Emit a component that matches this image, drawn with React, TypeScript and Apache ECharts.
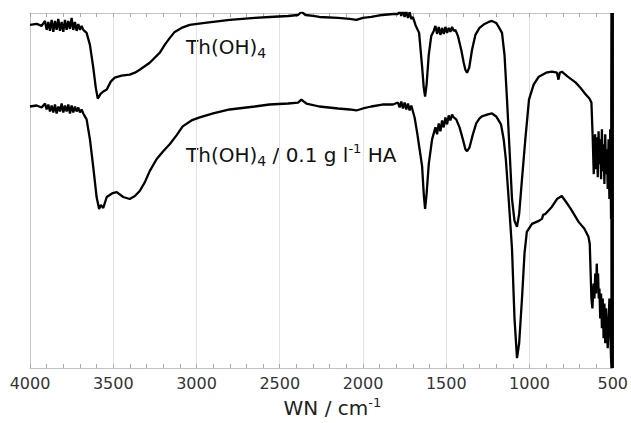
import React, { useEffect, useRef } from "react";
import * as echarts from "echarts";

// Wavenumbers (cm^-1) and transmittance (arbitrary units) for each spectrum
const wnThOH4 = [
  4000, 3960, 3930, 3910, 3900, 3890, 3880, 3870, 3860, 3850, 3840, 3830, 3820, 3810, 3800, 3790, 3780, 3770, 3760, 3750,
  3740, 3730, 3720, 3710, 3700, 3690, 3680, 3660, 3640, 3620, 3605, 3593, 3575, 3560, 3539, 3515, 3491, 3450, 3401, 3370,
  3341, 3281, 3221, 3191, 3160, 3131, 3090, 3041, 2950, 2800, 2650, 2560, 2450, 2390, 2370, 2360, 2345, 2300, 2262, 2150,
  2080, 2040, 2000, 1950, 1884, 1820, 1790, 1780, 1770, 1760, 1750, 1740, 1730, 1720, 1710, 1700, 1685, 1663, 1645, 1635,
  1627, 1618, 1605, 1590, 1575, 1565, 1555, 1545, 1535, 1525, 1515, 1505, 1495, 1485, 1475, 1465, 1455, 1445, 1430, 1410,
  1395, 1385, 1375, 1362, 1345, 1325, 1300, 1270, 1245, 1225, 1200, 1185, 1165, 1150, 1135, 1120, 1105, 1090, 1075, 1062,
  1045, 1025, 1003, 975, 944, 900, 866, 835, 826, 818, 806, 770, 722, 690, 662, 640, 628, 620, 614, 606,
  600, 595, 590, 585, 580, 575, 570, 565, 560, 555, 550, 545, 540, 535, 530, 525, 520, 515, 510, 507,
  505, 504, 503, 502, 501, 500,
];
const tThOH4 = [
  345, 346, 344, 349, 340, 348, 339, 350, 338, 349, 340, 351, 339, 348, 338, 350, 340, 349, 341, 352,
  340, 348, 339, 346, 340, 344, 340, 337, 325, 302, 282, 271, 276, 278, 280, 288, 292, 294, 295, 297,
  300, 307, 317, 325, 332, 338, 342, 345, 347, 350, 352, 353, 354, 355, 358, 357, 355, 354, 353, 352,
  351, 350, 352, 353, 355, 356, 356, 359, 354, 360, 353, 359, 352, 358, 351, 353, 345, 337, 303, 282,
  273, 285, 315, 334, 339, 344, 336, 343, 335, 342, 336, 343, 337, 342, 338, 343, 339, 340, 334, 320,
  307, 300, 297, 302, 320, 335, 342, 346, 348, 349, 347, 343, 337, 315, 270, 220, 170, 148, 142, 155,
  190, 230, 270, 285, 293, 297, 298, 297, 290, 297, 298, 293, 287, 281, 275, 271, 267, 230, 195, 235,
  200, 232, 192, 238, 205, 230, 190, 240, 198, 225, 185, 235, 195, 220, 180, 230, 170, 240, 150, 357,
  0, 357, 0, 357, 0, 357,
];

const wnThOH4HA = [
  4000, 3960, 3930, 3910, 3900, 3890, 3880, 3870, 3860, 3850, 3840, 3830, 3820, 3810, 3800, 3790, 3780, 3770, 3760, 3750,
  3740, 3730, 3720, 3710, 3700, 3690, 3680, 3660, 3640, 3620, 3600, 3585, 3575, 3560, 3539, 3503, 3479, 3440, 3401, 3370,
  3341, 3310, 3281, 3240, 3200, 3161, 3120, 3083, 3030, 2981, 2900, 2801, 2650, 2562, 2450, 2390, 2370, 2355, 2340, 2262,
  2150, 2080, 2040, 2000, 1950, 1884, 1820, 1790, 1780, 1770, 1760, 1750, 1740, 1730, 1720, 1710, 1700, 1690, 1675, 1660,
  1645, 1635, 1627, 1618, 1605, 1585, 1565, 1555, 1545, 1535, 1525, 1515, 1505, 1495, 1485, 1475, 1465, 1455, 1440, 1420,
  1400, 1385, 1375, 1360, 1340, 1320, 1300, 1286, 1250, 1225, 1200, 1171, 1155, 1142, 1125, 1105, 1090, 1075, 1062, 1045,
  1030, 1016, 985, 944, 925, 918, 905, 866, 835, 806, 780, 752, 705, 670, 646, 638, 628, 622, 615, 610,
  605, 600, 596, 592, 588, 584, 580, 575, 570, 565, 560, 555, 550, 545, 540, 530, 520, 510, 507, 505,
  504, 503, 502, 501, 500,
];
const tThOH4HA = [
  263, 264, 262, 266, 260, 265, 258, 264, 257, 265, 256, 263, 258, 266, 257, 264, 258, 265, 256, 264,
  257, 263, 258, 262, 257, 260, 256, 250, 230, 202, 172, 160, 164, 161, 172, 176, 177, 172, 170, 173,
  178, 187, 198, 210, 218, 225, 234, 243, 249, 252, 256, 260, 263, 265, 266, 267, 270, 268, 266, 263,
  261, 260, 259, 261, 263, 265, 265, 267, 262, 268, 261, 267, 260, 266, 259, 264, 258, 252, 237, 220,
  203, 175, 160, 175, 205, 230, 242, 235, 246, 238, 249, 242, 252, 245, 254, 249, 255, 252, 250, 242,
  230, 220, 218, 222, 235, 246, 251, 253, 255, 256, 253, 245, 230, 210, 170, 120, 50, 10, 25, 70,
  115, 137, 145, 148, 150, 154, 155, 162, 170, 173, 167, 160, 147, 140, 132, 125, 70, 60, 85, 70,
  95, 75, 105, 85, 95, 70, 80, 50, 75, 40, 70, 30, 65, 25, 60, 20, 70, 10, 0, 357,
  0, 357, 0, 357, 0,
];

const xTicks = [4000, 3500, 3000, 2500, 2000, 1500, 1000, 500];
const seriesNames = ["Th(OH)4", "Th(OH)4 / 0.1 g l-1 HA"];

const FONT = "DejaVu Sans";

export default function App() {
  const ref = useRef<HTMLDivElement>(null);
  useEffect(() => {
    if (!ref.current) return;
    const chart = echarts.init(ref.current, undefined, { renderer: "svg" });
    const xMin = xTicks[xTicks.length - 1];
    const xMax = xTicks[0];
    const axisCommon = {
      type: "value" as const,
      min: xMin,
      max: xMax,
      interval: 500,
      inverse: true,
      axisLine: { show: true, lineStyle: { color: "#c4c4c4", width: 1 } },
      axisTick: { show: true, inside: true, length: 4, lineStyle: { color: "#a8a8a8" } },
      minorTick: { show: true, splitNumber: 5, length: 4, lineStyle: { color: "#a8a8a8" } },
    };
    chart.setOption({
      animation: false,
      backgroundColor: "#ffffff",
      grid: { left: 30, right: 18, top: 13, bottom: 53 },
      xAxis: [
        {
          ...axisCommon,
          position: "bottom",
          axisLabel: {
            show: true,
            color: "#333",
            fontSize: 16,
            fontFamily: FONT,
            margin: 7,
            formatter: (v: number) => String(v),
          },
          splitLine: { show: true, lineStyle: { color: "#e2e2e2", width: 1 } },
          name: "{m|WN / cm}{sup|-1}",
          nameLocation: "middle",
          nameGap: 26,
          nameTextStyle: {
            padding: [0, 0, 0, 22],
            rich: {
              m: { fontSize: 20, color: "#222", fontFamily: FONT, lineHeight: 24 },
              sup: { fontSize: 13, color: "#222", fontFamily: FONT, lineHeight: 14, verticalAlign: "top" },
            },
          },
        },
        {
          ...axisCommon,
          position: "top",
          axisLabel: { show: false },
          splitLine: { show: false },
        },
      ],
      yAxis: {
        type: "value",
        min: 0,
        max: 357,
        axisLine: { show: true, lineStyle: { color: "#c4c4c4", width: 1 } },
        axisTick: { show: false },
        axisLabel: { show: false },
        splitLine: { show: false },
      },
      series: [
        {
          name: seriesNames[0],
          type: "line",
          data: wnThOH4.map((w, i) => [w, tThOH4[i]]),
          showSymbol: false,
          lineStyle: { color: "#000", width: 2.3 },
          clip: true,
        },
        {
          name: seriesNames[1],
          type: "line",
          data: wnThOH4HA.map((w, i) => [w, tThOH4HA[i]]),
          showSymbol: false,
          lineStyle: { color: "#000", width: 2.3 },
          clip: true,
        },
      ],
      graphic: [
        {
          type: "text",
          left: 186,
          top: 37,
          style: {
            text: "{m|Th(OH)}{sub|4}",
            rich: {
              m: { fontSize: 20, fill: "#111", fontFamily: FONT, lineHeight: 26 },
              sub: { fontSize: 14, fill: "#111", fontFamily: FONT, lineHeight: 10, verticalAlign: "bottom" },
            },
          },
        },
        {
          type: "text",
          left: 186,
          top: 142,
          style: {
            text: "{m|Th(OH)}{sub|4}{m| / 0.1 g l}{sup|-1}{m| HA}",
            rich: {
              m: { fontSize: 20, fill: "#111", fontFamily: FONT, lineHeight: 26 },
              sub: { fontSize: 14, fill: "#111", fontFamily: FONT, lineHeight: 10, verticalAlign: "bottom" },
              sup: { fontSize: 13, fill: "#111", fontFamily: FONT, lineHeight: 14, verticalAlign: "top" },
            },
          },
        },
      ],
    });
    return () => chart.dispose();
  }, []);
  return <div ref={ref} style={{ width: 631, height: 423, position: "absolute", left: 0, top: 0 }} />;
}
